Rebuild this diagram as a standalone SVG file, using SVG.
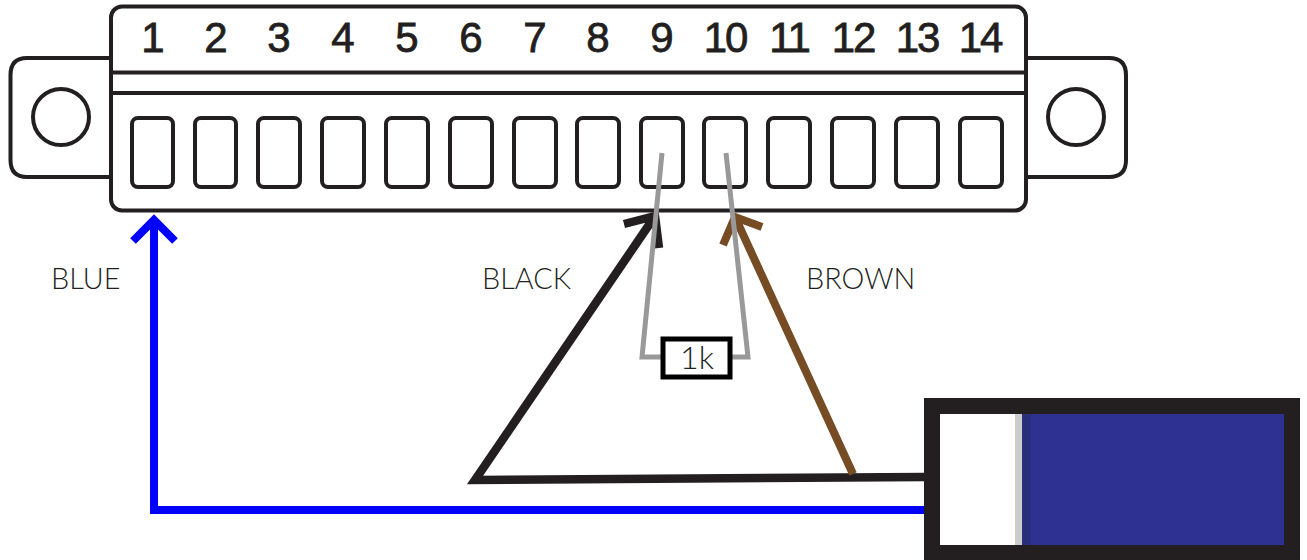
<svg xmlns="http://www.w3.org/2000/svg" width="1307" height="560" viewBox="0 0 1307 560">
<style>
.o{fill:#fff;stroke:#231f20;stroke-width:4}
.n{font-family:"Liberation Sans",Arial,sans-serif;font-size:42px;letter-spacing:-2px;fill:#231f20;stroke:#231f20;stroke-width:.8;text-anchor:middle}
.l{font-family:Lato,"Open Sans",sans-serif;font-weight:300;font-size:28.800px;fill:#231f20}
.r{font-size:32px;text-anchor:middle}
.w{fill:none;stroke-linejoin:miter;stroke-linecap:butt}
</style>
<rect width="1307" height="560" fill="#fff"/>
<g id="connector">
<path class="o" d="M110 58H27Q10.500 58 10.500 75V160Q10.500 177 27 177H110"/>
<path class="o" d="M1027 58H1109Q1126 58 1126 75V160Q1126 177 1109 177H1027"/>
<circle class="o" cx="61" cy="117" r="28"/>
<circle class="o" cx="1076" cy="117" r="28"/>
<rect class="o" x="111" y="6.500" width="915" height="204" rx="11"/>
<path class="o" d="M111 72.500H1026M111 93H1026"/>
</g>
<g id="slots">
<rect class="o" x="132" y="118" width="41" height="69" rx="6"/>
<rect class="o" x="195" y="118" width="41" height="69" rx="6"/>
<rect class="o" x="258" y="118" width="42" height="69" rx="6"/>
<rect class="o" x="322" y="118" width="42" height="69" rx="6"/>
<rect class="o" x="386" y="118" width="42" height="69" rx="6"/>
<rect class="o" x="450" y="118" width="42" height="69" rx="6"/>
<rect class="o" x="514" y="118" width="42" height="69" rx="6"/>
<rect class="o" x="577" y="118" width="42" height="69" rx="6"/>
<rect class="o" x="641" y="118" width="42" height="69" rx="6"/>
<rect class="o" x="704" y="118" width="42" height="69" rx="6"/>
<rect class="o" x="768" y="118" width="42" height="69" rx="6"/>
<rect class="o" x="832" y="118" width="42" height="69" rx="6"/>
<rect class="o" x="896" y="118" width="42" height="69" rx="6"/>
<rect class="o" x="960" y="118" width="42" height="69" rx="6"/>
</g>
<g id="numbers">
<text class="n" x="152" y="52">1</text>
<text class="n" x="215" y="52">2</text>
<text class="n" x="278" y="52">3</text>
<text class="n" x="342" y="52">4</text>
<text class="n" x="406" y="52">5</text>
<text class="n" x="470" y="52">6</text>
<text class="n" x="534" y="52">7</text>
<text class="n" x="597" y="52">8</text>
<text class="n" x="661" y="52">9</text>
<text class="n" x="725" y="52">10</text>
<text class="n" x="789" y="52">11</text>
<text class="n" x="853" y="52">12</text>
<text class="n" x="917" y="52">13</text>
<text class="n" x="980" y="52">14</text>
</g>
<g id="connectors">
<path class="w" stroke="#00f" stroke-width="8" d="M925 510H154V220M133 241L154 220L175 241"/>
<path class="w" stroke="#231f20" stroke-width="8.500" d="M925 477L475 480L653 219M624 224L655 216L659 248"/>
<path class="w" stroke="#754c24" stroke-width="8" d="M853 474L735 217M723 245L735 217L762 227"/>
<path class="w" stroke="#999" stroke-width="5" d="M662 153L642 357H662M726 153L748 357H731"/>
</g>
<g id="resistor">
<rect x="663" y="339" width="67" height="38" fill="#fff" stroke="#000" stroke-width="5"/>
<text class="l r" x="697" y="369">1k</text>
</g>
<g id="labels">
<text class="l" x="51" y="289">BLUE</text>
<text class="l" x="482" y="289">BLACK</text>
<text class="l" x="806" y="289">BROWN</text>
</g>
<g id="terminal">
<rect x="924" y="398" width="376" height="162" fill="#231f20"/>
<rect x="940" y="414" width="344" height="131" fill="#fff"/>
<rect x="1015" y="414" width="7" height="131" fill="#ccc"/>
<rect x="1022" y="414" width="262" height="131" fill="#2e3192"/>
<rect x="1022" y="414" width="9" height="131" fill="#2b2e7a"/>
</g>
</svg>
